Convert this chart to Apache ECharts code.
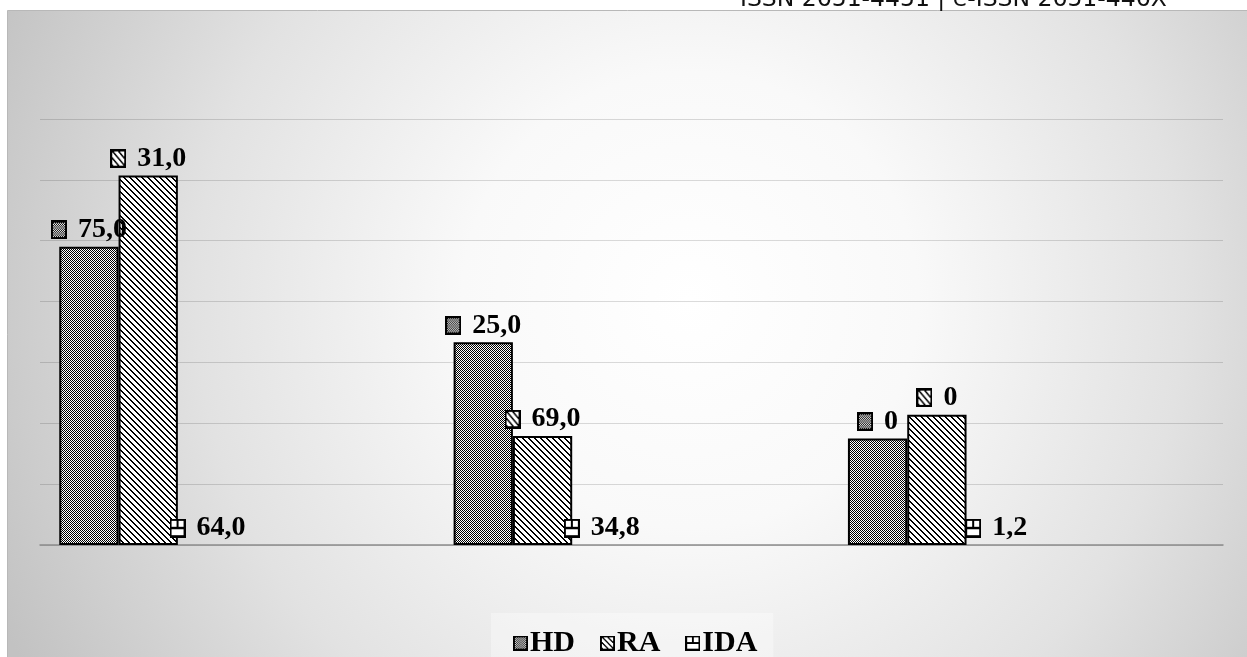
<!DOCTYPE html>
<html><head><meta charset="utf-8">
<script src="https://cdn.jsdelivr.net/npm/echarts@6/dist/echarts.min.js"></script>
<style>html,body{margin:0;padding:0;background:#fff}#c{width:1247px;height:657px}</style>
</head><body><div id="c"></div>
<script>
// ---- data ----
const categories = ['Group 1', 'Group 2', 'Group 3'];
const seriesNames = ['HD', 'RA', 'IDA'];
const hdValues = [49.0, 33.3, 17.5];
const raValues = [60.7, 17.9, 21.4];
const idaValues = [0, 0, 0];
const hdLabels = ['75,0', '25,0', '0'];
const raLabels = ['31,0', '69,0', '0'];
const idaLabels = ['64,0', '34,8', '1,2'];
const padValues = [null, null, null];
const headerText = 'ISSN 2651-4451 | e-ISSN 2651-446X';

// ---- pattern helpers ----
function makeCanvas(w, h, fn) { const c = document.createElement('canvas'); c.width = w; c.height = h; fn(c.getContext('2d'), w, h); return c; }
function fillChecker(ctx, x0, y0, w, h) {
  ctx.fillStyle = '#fff'; ctx.fillRect(x0, y0, w, h); ctx.fillStyle = '#000';
  for (let y = 0; y < h; y++) for (let x = 0; x < w; x++) if ((x + y) % 2 === 0) ctx.fillRect(x0 + x, y0 + y, 1, 1);
}
function fillDiag(ctx, x0, y0, w, h) {
  ctx.fillStyle = '#fff'; ctx.fillRect(x0, y0, w, h); ctx.fillStyle = '#000';
  for (let y = 0; y < h; y++) for (let x = 0; x < w; x++) if ((((x - y) % 6) + 6) % 6 < 2) ctx.fillRect(x0 + x, y0 + y, 1, 1);
}
const checkerTile = makeCanvas(2, 2, (ctx, w, h) => fillChecker(ctx, 0, 0, w, h));
const diagTile = makeCanvas(6, 6, (ctx, w, h) => fillDiag(ctx, 0, 0, w, h));
function icon(kind) {
  return makeCanvas(16, 16, (ctx) => {
    ctx.fillStyle = '#000'; ctx.fillRect(0, 0, 16, 16);
    if (kind === 'HD') fillChecker(ctx, 2, 2, 12, 12);
    else if (kind === 'RA') fillDiag(ctx, 2, 2, 12, 12);
    else { ctx.fillStyle = '#fff'; ctx.fillRect(2, 2, 12, 12); ctx.fillStyle = '#000'; ctx.fillRect(2, 7, 12, 2); ctx.fillRect(7, 2, 2, 6); }
  });
}
const icons = { HD: icon('HD'), RA: icon('RA'), IDA: icon('IDA') };

const serif = '"Liberation Serif", "Times New Roman", serif';
function labelFor(name, labels) {
  return {
    show: true, position: 'top', distance: 3,
    formatter: p => '{ic|}{sp|}{v|' + labels[p.dataIndex] + '}',
    rich: {
      ic: { backgroundColor: { image: icons[name] }, width: 16, height: 16, padding: [0, 0, 3, 0] },
      sp: { width: 11 },
      v: { fontFamily: serif, fontSize: 28, fontWeight: 'bold', color: '#000' }
    }
  };
}
const barCommon = { type: 'bar', barWidth: 59.3, barGap: '0%' };
function barSeries(name, values, labels, tile, bw) {
  return Object.assign({}, barCommon, {
    name, data: values,
    itemStyle: { color: { image: tile, repeat: 'repeat' }, borderColor: '#000', borderWidth: bw },
    label: labelFor(name, labels)
  });
}
function padSeries(i) { return Object.assign({}, barCommon, { name: 'pad' + i, data: padValues, silent: true }); }

const chart = echarts.init(document.getElementById('c'), null, { renderer: 'canvas' });
chart.setOption({
  animation: false,
  backgroundColor: '#ffffff',
  graphic: [
    { type: 'rect', z: -10, silent: true, shape: { x: 7.5, y: 10.5, width: 1260, height: 660 },
      style: { fill: new echarts.graphic.RadialGradient(690, 300, 760, [
        { offset: 0, color: '#ffffff' }, { offset: 0.3, color: '#f9f9f9' },
        { offset: 0.65, color: '#e2e2e2' }, { offset: 1, color: '#c2c2c2' }], true),
        stroke: '#b8b8b8', lineWidth: 1 } },
    { type: 'text', z: 10, left: 740, top: -12, style: { text: headerText, font: '23.5px "DejaVu Sans", sans-serif', fill: '#111' } }
  ],
  grid: { left: 40, right: 24, top: 119, bottom: 112, containLabel: false },
  legend: {
    data: seriesNames.map(n => ({ name: n, icon: 'image://' + icons[n].toDataURL() })),
    left: 491, top: 613, itemWidth: 15, itemHeight: 15, itemGap: 25,
    padding: [15, 16, 12, 22], backgroundColor: 'rgba(255,255,255,0.35)',
    textStyle: { fontFamily: serif, fontSize: 30, fontWeight: 'bold', color: '#000', padding: [0, 0, 0, -3] }
  },
  xAxis: { type: 'category', data: categories,
    axisLine: { show: true, lineStyle: { color: '#8c8c8c', width: 1.5 } },
    axisTick: { show: false }, axisLabel: { show: false }, splitLine: { show: false } },
  yAxis: { type: 'value', min: 0, max: 70, interval: 10,
    axisLine: { show: false }, axisTick: { show: false }, axisLabel: { show: false },
    splitLine: { show: true, lineStyle: { color: 'rgba(0,0,0,0.14)', width: 1.2 } } },
  series: [
    barSeries('HD', hdValues, hdLabels, checkerTile, 2),
    barSeries('RA', raValues, raLabels, diagTile, 2),
    barSeries('IDA', idaValues, idaLabels, checkerTile, 0),
    padSeries(1), padSeries(2), padSeries(3)
  ]
});
</script></body></html>
